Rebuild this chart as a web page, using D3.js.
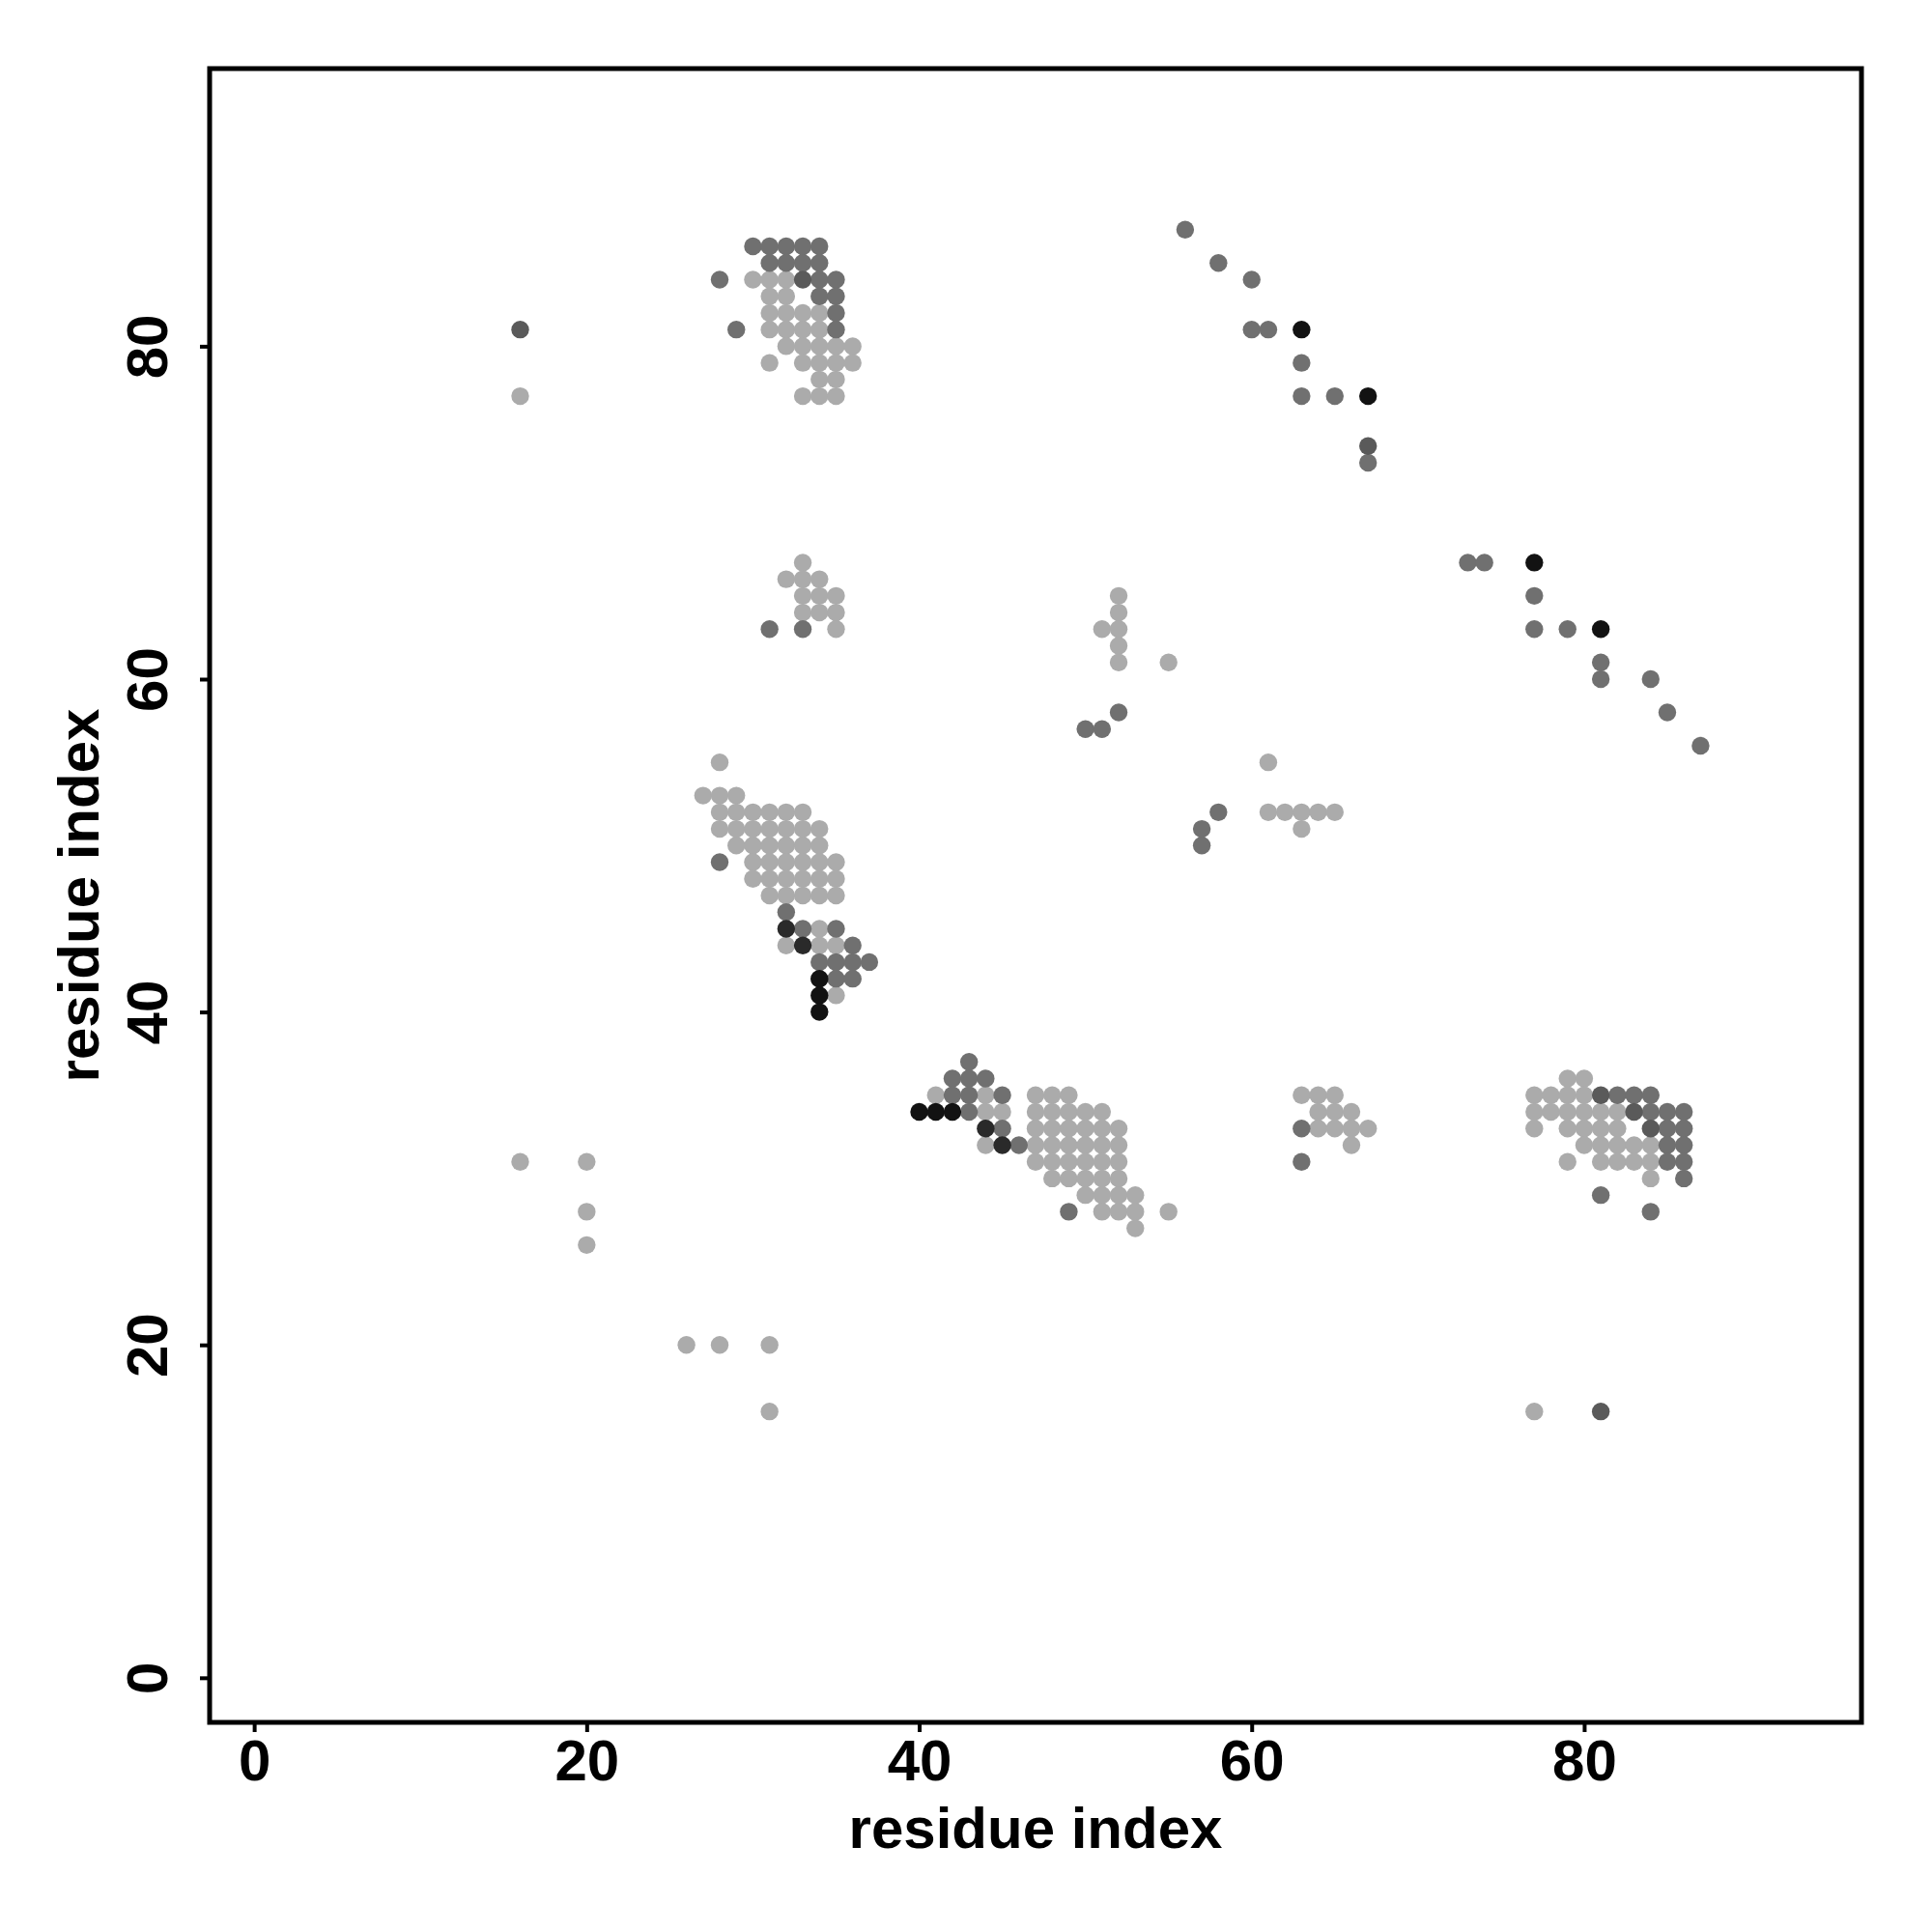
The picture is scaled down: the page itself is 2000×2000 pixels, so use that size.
<!DOCTYPE html>
<html>
<head>
<meta charset="utf-8">
<script src="https://cdn.jsdelivr.net/npm/d3@7"></script>
<style>
  html, body { margin: 0; padding: 0; background: #ffffff; }
  svg { display: block; }
</style>
</head>
<body>
<svg id="chart" width="2000" height="2000"></svg>
<script>
// ---- Data (residue contact pairs, grouped by shade) ----
const xTicks = [0, 20, 40, 60, 80];
const yTicks = [0, 20, 40, 60, 80];
const axisLabelX = "residue index";
const axisLabelY = "residue index";

const pointsLight = [
  [30,84],[31,84],[32,84],[31,83],[32,83],
  [31,82],[32,82],[33,82],[34,82],
  [31,81],[32,81],[33,81],[34,81],
  [32,80],[33,80],[34,80],[35,80],[36,80],
  [31,79],[33,79],[34,79],[35,79],[36,79],
  [34,78],[35,78],[33,77],[34,77],[35,77],
  [16,77],
  [33,67],[32,66],[33,66],[34,66],[33,65],[34,65],[35,65],[33,64],[34,64],[35,64],[35,63],
  [28,55],[27,53],[28,53],[29,53],
  [28,52],[29,52],[30,52],[31,52],[32,52],[33,52],
  [28,51],[29,51],[30,51],[31,51],[32,51],[33,51],[34,51],
  [29,50],[30,50],[31,50],[32,50],[33,50],[34,50],
  [30,49],[31,49],[32,49],[33,49],[34,49],[35,49],
  [30,48],[31,48],[32,48],[33,48],[34,48],[35,48],
  [31,47],[32,47],[33,47],[34,47],[35,47],
  [34,45],[32,44],[34,44],[35,44],[35,41],
  [41,35],[44,35],[47,35],[48,35],[49,35],
  [44,34],[45,34],[47,34],[48,34],[49,34],[50,34],[51,34],
  [47,33],[48,33],[49,33],[50,33],[51,33],[52,33],
  [44,32],[47,32],[48,32],[49,32],[50,32],[51,32],[52,32],
  [47,31],[48,31],[49,31],[50,31],[51,31],[52,31],
  [48,30],[49,30],[50,30],[51,30],[52,30],
  [50,29],[51,29],[52,29],[53,29],
  [51,28],[52,28],[53,28],[55,28],[53,27],
  [79,36],[80,36],[77,35],[78,35],[79,35],[80,35],
  [77,34],[78,34],[79,34],[80,34],[81,34],[82,34],
  [77,33],[79,33],[80,33],[81,33],[82,33],
  [80,32],[81,32],[82,32],[83,32],[84,32],
  [79,31],[81,31],[82,31],[83,31],[84,31],[84,30],
  [63,35],[64,35],[65,35],[64,34],[65,34],[66,34],
  [64,33],[65,33],[66,33],[67,33],[66,32],
  [52,65],[52,64],[51,63],[52,63],[52,62],[52,61],[55,61],
  [61,55],[61,52],[62,52],[63,52],[64,52],[65,52],[63,51],
  [16,31],[20,31],[20,28],[20,26],[26,20],[28,20],[31,20],[31,16],[77,16]
];

const pointsMid = [
  [30,86],[31,86],[32,86],[33,86],[34,86],
  [31,85],[32,85],[33,85],[34,85],
  [28,84],[34,84],[35,84],[34,83],[35,83],[35,82],[29,81],[35,81],
  [31,63],[33,63],
  [28,49],[32,46],[33,45],[35,45],[36,44],
  [34,43],[35,43],[36,43],[37,43],[35,42],[36,42],
  [43,37],[42,36],[43,36],[44,36],[42,35],[43,35],[45,35],[43,34],[45,33],[46,32],[49,28],
  [82,35],[83,35],[84,35],[84,34],[85,34],[86,34],[85,33],[86,33],
  [85,32],[86,32],[85,31],[86,31],[86,30],[81,29],[84,28],
  [63,33],[63,31],
  [56,87],[58,85],[60,84],[60,81],[61,81],[63,79],[63,77],[65,77],[67,73],
  [73,67],[74,67],[77,65],[77,63],[79,63],[81,61],[81,60],[84,60],[85,58],[87,56],
  [52,58],[50,57],[51,57],[58,52],[57,51],[57,50]
];

const pointsDark = [
  [33,84],[16,81],[81,16],[84,33],[83,34],[81,35],[67,74]
];

const pointsNearBlack = [
  [32,45],[33,44],[44,33],[45,32]
];

const pointsBlack = [
  [34,42],[34,41],[34,40],[40,34],[41,34],[42,34],[63,81],[67,77],[77,67],[81,63]
];

// ---- Layout ----
const svg = d3.select("#chart");
const W = 2000, H = 2000;
const plot = { left: 217, right: 1927, top: 71, bottom: 1783 };
const domain = [-2.68, 96.68];

const x = d3.scaleLinear().domain(domain).range([plot.left, plot.right]);
const y = d3.scaleLinear().domain(domain).range([plot.bottom, plot.top]);

svg.append("rect").attr("x", 0).attr("y", 0).attr("width", W).attr("height", H).attr("fill", "#ffffff");

const groups = [
  { pts: pointsLight, color: "#ababab" },
  { pts: pointsMid, color: "#707070" },
  { pts: pointsDark, color: "#5a5a5a" },
  { pts: pointsNearBlack, color: "#2a2a2a" },
  { pts: pointsBlack, color: "#121212" }
];

const gPts = svg.append("g");
groups.forEach(gr => {
  gPts.selectAll(null)
    .data(gr.pts)
    .enter()
    .append("circle")
    .attr("cx", d => x(d[0]))
    .attr("cy", d => y(d[1]))
    .attr("r", 9.2)
    .attr("fill", gr.color);
});

// Frame
svg.append("rect")
  .attr("x", plot.left).attr("y", plot.top)
  .attr("width", plot.right - plot.left).attr("height", plot.bottom - plot.top)
  .attr("fill", "none").attr("stroke", "#000").attr("stroke-width", 5);

const fontFam = "'Liberation Sans', Arial, Helvetica, sans-serif";
const fs = 60;

// X axis
const xAxis = svg.append("g")
  .attr("transform", `translate(0,${plot.bottom})`)
  .call(d3.axisBottom(x).tickValues(xTicks).tickSize(10).tickPadding(8).tickFormat(d3.format("d")));
xAxis.select(".domain").remove();
xAxis.selectAll(".tick line").attr("stroke", "#000").attr("stroke-width", 4);
xAxis.selectAll(".tick text")
  .attr("font-family", fontFam).attr("font-weight", "bold").attr("font-size", fs)
  .attr("fill", "#000").attr("dy", null).attr("y", 60);

// Y axis
const yAxis = svg.append("g")
  .attr("transform", `translate(${plot.left},0)`)
  .call(d3.axisLeft(y).tickValues(yTicks).tickSize(10).tickFormat(d3.format("d")));
yAxis.select(".domain").remove();
yAxis.selectAll(".tick line").attr("stroke", "#000").attr("stroke-width", 4);
yAxis.selectAll(".tick text")
  .attr("font-family", fontFam).attr("font-weight", "bold").attr("font-size", fs)
  .attr("fill", "#000")
  .attr("x", null).attr("dy", null)
  .attr("text-anchor", "middle")
  .attr("transform", "translate(-44,0) rotate(-90)");

// Axis titles
svg.append("text")
  .attr("x", (plot.left + plot.right) / 2).attr("y", 1913)
  .attr("text-anchor", "middle")
  .attr("font-family", fontFam).attr("font-weight", "bold").attr("font-size", fs)
  .attr("fill", "#000")
  .text(axisLabelX);

svg.append("text")
  .attr("transform", `translate(102,${(plot.top + plot.bottom) / 2}) rotate(-90)`)
  .attr("text-anchor", "middle")
  .attr("font-family", fontFam).attr("font-weight", "bold").attr("font-size", fs)
  .attr("fill", "#000")
  .text(axisLabelY);
</script>
</body>
</html>
